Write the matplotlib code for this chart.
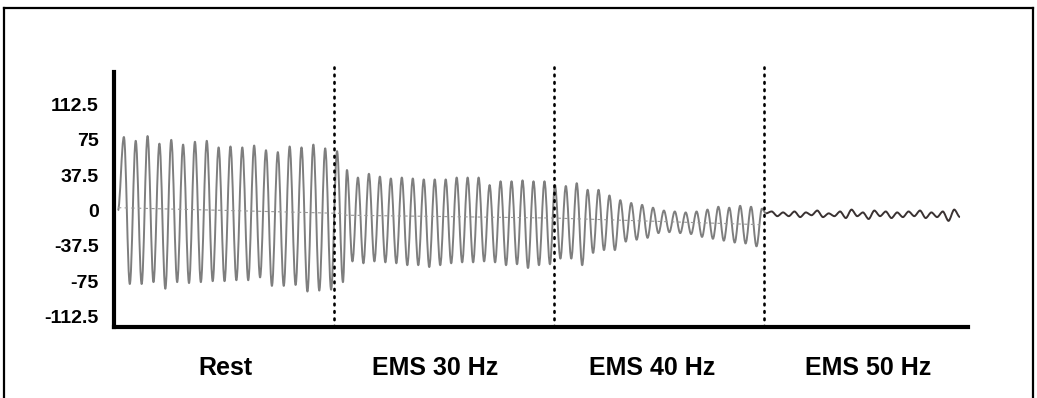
import numpy as np
import matplotlib.pyplot as plt
from matplotlib.lines import Line2D
from matplotlib.path import Path
from matplotlib.patches import PathPatch

plt.rcParams['font.family'] = ['Liberation Sans', 'DejaVu Sans']
plt.rcParams['font.weight'] = 'bold'

# stimulus sections and the times (arbitrary units) where they change
sections = ['Rest', 'EMS 30 Hz', 'EMS 40 Hz', 'EMS 50 Hz']
section_edges = [0, 220, 440, 650, 854]
label_t = [111, 321, 538, 754]

# y axis ticks as printed on the original figure
y_ticks = [112.5, 75, 37.5, 0, -37.5, -75, -112.5]
y_labels = ['112.5', '75', '37.5', '0', '-37.5', '-75', '-112.5']

# successive peaks / troughs of the trace
rest_peaks = [78, 74, 79, 71, 75, 70, 73, 74, 67, 68, 67, 69, 64, 62, 68, 67, 70, 66, 63]
rest_troughs = [-78, -78, -76, -83, -76, -77, -76, -75, -75, -74, -74, -71, -80, -80, -79, -86, -85, -84, -76]
ems30_peaks = [43, 35, 39, 36, 34, 35, 34, 33, 33, 33, 35, 35, 35, 27, 31, 31, 32, 31, 31]
ems30_troughs = [-54, -56, -54, -55, -56, -58, -58, -60, -58, -56, -55, -55, -54, -55, -58, -57, -61, -58, -57]
ems40_peaks = [27, 26, 29, 22, 22, 16, 11, 8, 6, 3, 0, -1, -2, -1, 1, 4, 3, 5, 4, 2]
ems40_troughs = [-51, -51, -58, -45, -42, -42, -33, -31, -29, -24, -23, -24, -25, -28, -30, -32, -34, -35, -38]
ems50_trace = [-3, -1, -6, -2, -6, -1, -7, -2, -5, 0, -7, -3, -6, -1, -8, 1, -6, -2,
               -9, 0, -6, -1, -8, -2, -7, -1, -6, 0, -8, -2, -7, -1, -11, 1, -7]

# time covered by each piece of the trace
rest_span = (4, 229)
ems30_span = (233, 436)
ems40_span = (441, 648)
ems50_span = (652, 846)

# drifting zero line of the recorder
baseline_t = [4, 226, 233, 440, 646]
baseline_v = [3, -3, -5, -8, -15]


def interleave(peaks, troughs):
    out = []
    for i, p in enumerate(peaks):
        out.append(p)
        if i < len(troughs):
            out.append(troughs[i])
    return out


def smooth_path(t, v, k=0.36):
    # cubic bezier through the extremes, flat at every peak and trough
    verts = [(t[0], v[0])]
    codes = [Path.MOVETO]
    for i in range(1, len(t)):
        d = t[i] - t[i - 1]
        verts += [(t[i - 1] + k * d, v[i - 1]), (t[i] - k * d, v[i]), (t[i], v[i])]
        codes += [Path.CURVE4] * 3
    return Path(verts, codes)


fig = plt.figure(figsize=(10.37, 3.98), dpi=100)
ax = fig.add_axes([0.1099, 0.1784, 0.8235, 0.6407])

wave_color = '#7e7e7e'
pieces = [
    ([0] + interleave(rest_peaks, rest_troughs), rest_span),
    (interleave(ems30_peaks, ems30_troughs), ems30_span),
    (interleave(ems40_peaks, ems40_troughs), ems40_span),
]
t_all, v_all = [], []
for vals, span in pieces:
    t_all.extend(np.linspace(span[0], span[1], len(vals)))
    v_all.extend(vals)
t50 = list(np.linspace(ems50_span[0], ems50_span[1], len(ems50_trace)))

ax.add_patch(PathPatch(smooth_path(t_all + [t50[0]], v_all + [ems50_trace[0]]),
                       facecolor='none', edgecolor=wave_color, lw=1.4, joinstyle='round'))
ax.add_patch(PathPatch(smooth_path(t50, ems50_trace, k=0.3),
                       facecolor='none', edgecolor='#3a3232', lw=1.4, joinstyle='round'))

ax.plot(baseline_t, baseline_v, color='#9a9a9a', lw=0.8, ls=(0, (3, 3)))

for edge in section_edges[1:-1]:
    ax.plot([edge, edge], [-123.6, 152], color='black', lw=1.9, ls=(0, (0.6, 2.2)),
            dash_capstyle='round', clip_on=False)

ax.set_xlim(section_edges[0], section_edges[-1])
ax.set_ylim(-123.6, 147)

ax.spines['top'].set_visible(False)
ax.spines['right'].set_visible(False)
ax.spines['left'].set_linewidth(3)
ax.spines['bottom'].set_linewidth(3)

ax.set_yticks(y_ticks)
ax.set_yticklabels(y_labels, fontsize=14, fontweight='bold')
ax.set_xticks(label_t)
ax.set_xticklabels(sections, fontsize=18, fontweight='bold')
ax.tick_params(axis='y', length=0, pad=11)
ax.tick_params(axis='x', length=0, pad=21)

# frame of the scanned figure
fig.add_artist(Line2D([0.0039, 0.0039], [0, 0.98], color='black', lw=1.6))
fig.add_artist(Line2D([0.0039, 0.9965], [0.98, 0.98], color='black', lw=1.6))
fig.add_artist(Line2D([0.9965, 0.9965], [0, 0.98], color='black', lw=1.6))

fig.savefig('out.png', dpi=100)
